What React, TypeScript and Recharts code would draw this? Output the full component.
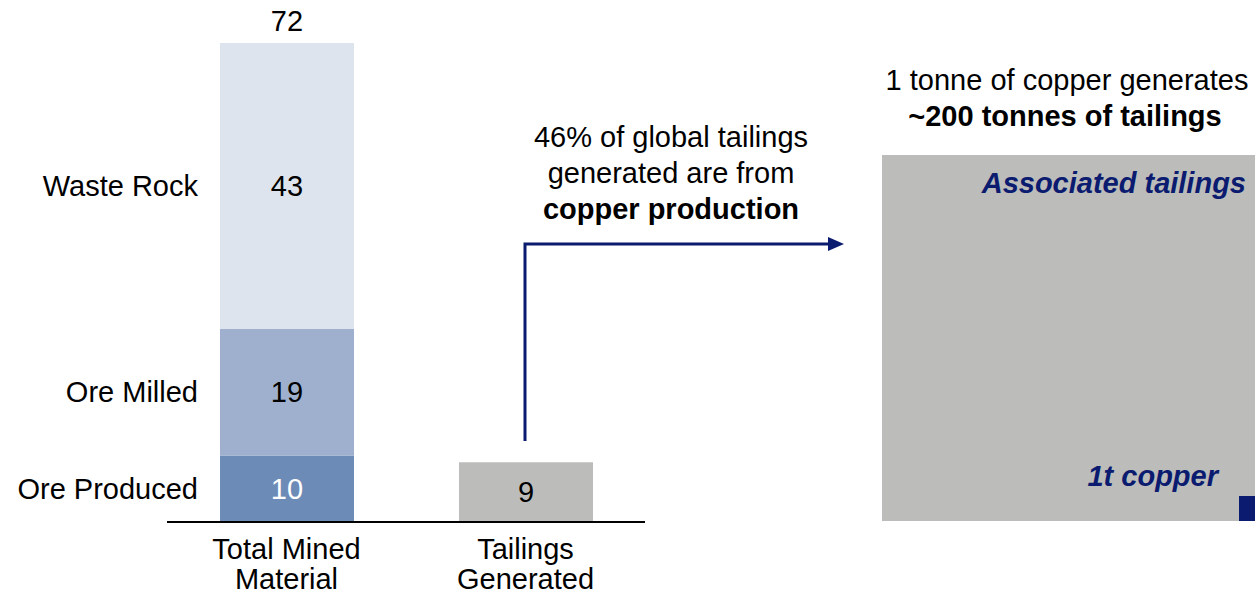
import { BarChart, Bar, XAxis, YAxis, LabelList } from "recharts";

const categories = ["Total Mined Material", "Tailings Generated"];
const oreProduced = [10, null];
const oreMilled = [19, null];
const wasteRock = [43, null];
const tailings = [null, 9];
const totals = [72, null];

const seriesNames = ["Ore Produced", "Ore Milled", "Waste Rock"];

const FONT = "'Liberation Sans', Arial, sans-serif";
const FS = 29;
const NAVY = "#0b1b6f";

const data = categories.map((name, i) => ({
    name,
    oreProduced: oreProduced[i],
    oreMilled: oreMilled[i],
    wasteRock: wasteRock[i],
    tailings: tailings[i],
    total: totals[i],
}));

// value inside the segment + series name to the left of the first bar
const segmentLabel = (seriesName: string | null, fill: string) => (props: any) => {
    const { x, y, width, height, value, index } = props;
    if (value == null) return null;
    const cy = Number(y) + Number(height) / 2;
    return (
        <g>
            <text x={Number(x) + Number(width) / 2} y={cy} textAnchor="middle" dominantBaseline="central"
                fontFamily={FONT} fontSize={FS} fill={fill}>
                {value}
            </text>
            {seriesName && index === 0 && (
                <text x={Number(x) - 22} y={cy} textAnchor="end" dominantBaseline="central"
                    fontFamily={FONT} fontSize={FS} fill="#000">
                    {seriesName}
                </text>
            )}
        </g>
    );
};

const totalLabel = (props: any) => {
    const { x, y, width, index } = props;
    const t = totals[index];
    if (t == null) return null;
    return (
        <text x={Number(x) + Number(width) / 2} y={Number(y) - 22} textAnchor="middle" dominantBaseline="central"
            fontFamily={FONT} fontSize={FS} fill="#000">
            {t}
        </text>
    );
};

const CategoryTick = (props: any) => {
    const { x, y, payload } = props;
    const s: string = payload.value;
    const cut = s.lastIndexOf(" ");
    const lines = [s.slice(0, cut), s.slice(cut + 1)];
    return (
        <g>
            {lines.map((l, i) => (
                <text key={i} x={x} y={y + 19 + i * 30} textAnchor="middle" dominantBaseline="central"
                    fontFamily={FONT} fontSize={FS} fill="#000">
                    {l}
                </text>
            ))}
        </g>
    );
};

export default function App() {
    return (
        <div style={{ position: "absolute", left: 0, top: 0, width: 1255, height: 594, background: "#fff" }}>
            <BarChart
                width={1255}
                height={594}
                data={data}
                margin={{ top: 43, right: 610, left: 167, bottom: 0 }}
            >
                <XAxis
                    dataKey="name"
                    axisLine={{ stroke: "#000", strokeWidth: 2 }}
                    tickLine={false}
                    tick={<CategoryTick />}
                    interval={0}
                    height={72}
                />
                <YAxis hide domain={[0, 72]} />
                <Bar dataKey="oreProduced" stackId="a" fill="#6d8bb7" barSize={134} isAnimationActive={false}>
                    <LabelList dataKey="oreProduced" content={segmentLabel(seriesNames[0], "#fff")} />
                </Bar>
                <Bar dataKey="oreMilled" stackId="a" fill="#9eb0ce" barSize={134} isAnimationActive={false}>
                    <LabelList dataKey="oreMilled" content={segmentLabel(seriesNames[1], "#000")} />
                </Bar>
                <Bar dataKey="wasteRock" stackId="a" fill="#dee4ee" barSize={134} isAnimationActive={false}>
                    <LabelList dataKey="wasteRock" content={segmentLabel(seriesNames[2], "#000")} />
                    <LabelList dataKey="wasteRock" content={totalLabel} />
                </Bar>
                <Bar dataKey="tailings" stackId="a" fill="#bcbdba" barSize={134} isAnimationActive={false}>
                    <LabelList dataKey="tailings" content={segmentLabel(null, "#000")} />
                </Bar>
            </BarChart>

            {/* annotation + illustrative tailings box */}
            <svg width={1255} height={594} style={{ position: "absolute", left: 0, top: 0, pointerEvents: "none" }}>
                <text textAnchor="middle" fontFamily={FONT} fontSize={FS} fill="#000">
                    <tspan x={671} y={147}>46% of global tailings</tspan>
                    <tspan x={671} y={183}>generated are from</tspan>
                    <tspan x={671} y={219} fontWeight="bold">copper production</tspan>
                </text>
                <polyline points="525,441 525,244 830,244" fill="none" stroke={NAVY} strokeWidth={3} />
                <polygon points="828,237 844,244 828,251" fill={NAVY} />

                <text textAnchor="middle" fontFamily={FONT} fontSize={FS} fill="#000">
                    <tspan x={1067} y={90}>1 tonne of copper generates</tspan>
                    <tspan x={1065} y={126} fontWeight="bold">~200 tonnes of tailings</tspan>
                </text>
                <rect x={882} y={155} width={373} height={366} fill="#bcbdba" />
                <text x={1246} y={193} textAnchor="end" fontFamily={FONT} fontSize={FS} fontWeight="bold"
                    fontStyle="italic" fill={NAVY}>
                    Associated tailings
                </text>
                <text x={1218} y={486} textAnchor="end" fontFamily={FONT} fontSize={FS} fontWeight="bold"
                    fontStyle="italic" fill={NAVY}>
                    1t copper
                </text>
                <rect x={1239} y={496} width={16} height={25} fill={NAVY} />
            </svg>
        </div>
    );
}
